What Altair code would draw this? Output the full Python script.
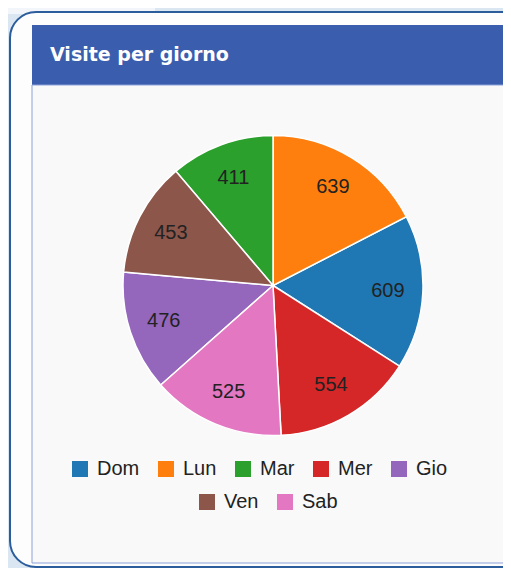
import altair as alt
import pandas as pd

# ---- data ----
days = ["Dom", "Lun", "Mar", "Mer", "Gio", "Ven", "Sab"]
visits = [609, 639, 411, 554, 476, 453, 525]
colors = ["#1f77b4", "#ff7f0e", "#2ca02c", "#d62728", "#9467bd", "#8c564b", "#e377c2"]
title_text = "Visite per giorno"

row1 = days[:5]
row2 = days[5:]
total = sum(visits)

df = pd.DataFrame({"giorno": days, "visite": visits})

W, H = 495, 560
CX, CY, R = 265, 277.5, 150

one = pd.DataFrame({"k": [0]})

theta_scale = alt.Scale(domain=[0, total], nice=False)

base = alt.Chart(df).transform_window(
    cum="sum(visite)", sort=[alt.SortField("visite", order="descending")]
).transform_calculate(
    start="datum.cum - datum.visite", mid="datum.cum - datum.visite / 2"
)

legend_common = dict(
    orient="none", direction="horizontal", title=None,
    symbolType="square", symbolSize=256, symbolStrokeWidth=0,
    labelFont="Liberation Sans", labelFontSize=20, labelColor="#222222",
    labelOffset=7, columnPadding=16, padding=0, labelLimit=300,
)


def arc_layer(names, cols, lx, ly):
    return base.transform_filter(
        alt.FieldOneOfPredicate(field="giorno", oneOf=names)
    ).mark_arc(outerRadius=R, stroke="white", strokeWidth=1.5).encode(
        x=alt.value(CX), y=alt.value(CY),
        theta=alt.Theta("start:Q", scale=theta_scale),
        theta2=alt.Theta2("cum"),
        color=alt.Color(
            "giorno:N", sort=names,
            scale=alt.Scale(domain=names, range=cols),
            legend=alt.Legend(legendX=lx, legendY=ly, **legend_common),
        ),
    )


arcs1 = arc_layer(row1, colors[:5], 62, 451)
arcs2 = arc_layer(row2, colors[5:], 189, 484)

labels = base.mark_text(
    radius=115, font="Liberation Sans", fontSize=20, color="#222222",
    align="center", baseline="middle",
).encode(
    x=alt.value(CX), y=alt.value(CY),
    theta=alt.Theta("mid:Q", scale=theta_scale, stack=False),
    text="visite:Q",
)

frame = alt.Chart(one)
topleft = frame.mark_rect(fill="#f2f6fa").encode(
    x=alt.value(0), x2=alt.value(147), y=alt.value(0), y2=alt.value(6))
outer = frame.mark_rect(cornerRadius=26, fill="#fdfdfe", stroke="#2b5c9c", strokeWidth=2).encode(
    x=alt.value(2), x2=alt.value(W + 25), y=alt.value(4), y2=alt.value(559))
header = frame.mark_rect(fill="#3a5dae").encode(
    x=alt.value(24), x2=alt.value(W + 10), y=alt.value(17), y2=alt.value(77))
content = frame.mark_rect(fill="#f9f9f9", stroke="#8ba3d8", strokeWidth=1).encode(
    x=alt.value(24), x2=alt.value(W + 10), y=alt.value(77), y2=alt.value(555))
title = frame.mark_text(
    font="DejaVu Sans", fontWeight="bold", fontSize=19, color="white",
    align="left", baseline="alphabetic",
).encode(x=alt.value(42), y=alt.value(53), text=alt.value(title_text))

chart = alt.layer(
    topleft, outer, header, content, title, arcs1, arcs2, labels
).resolve_scale(color="independent").resolve_legend(color="independent").properties(
    width=W, height=H, padding=0, background="#dae6f2",
    autosize=alt.AutoSizeParams(type="none"),
).configure_view(stroke=None)

chart.save("out.html", embed_options={"renderer": "svg", "actions": False})
